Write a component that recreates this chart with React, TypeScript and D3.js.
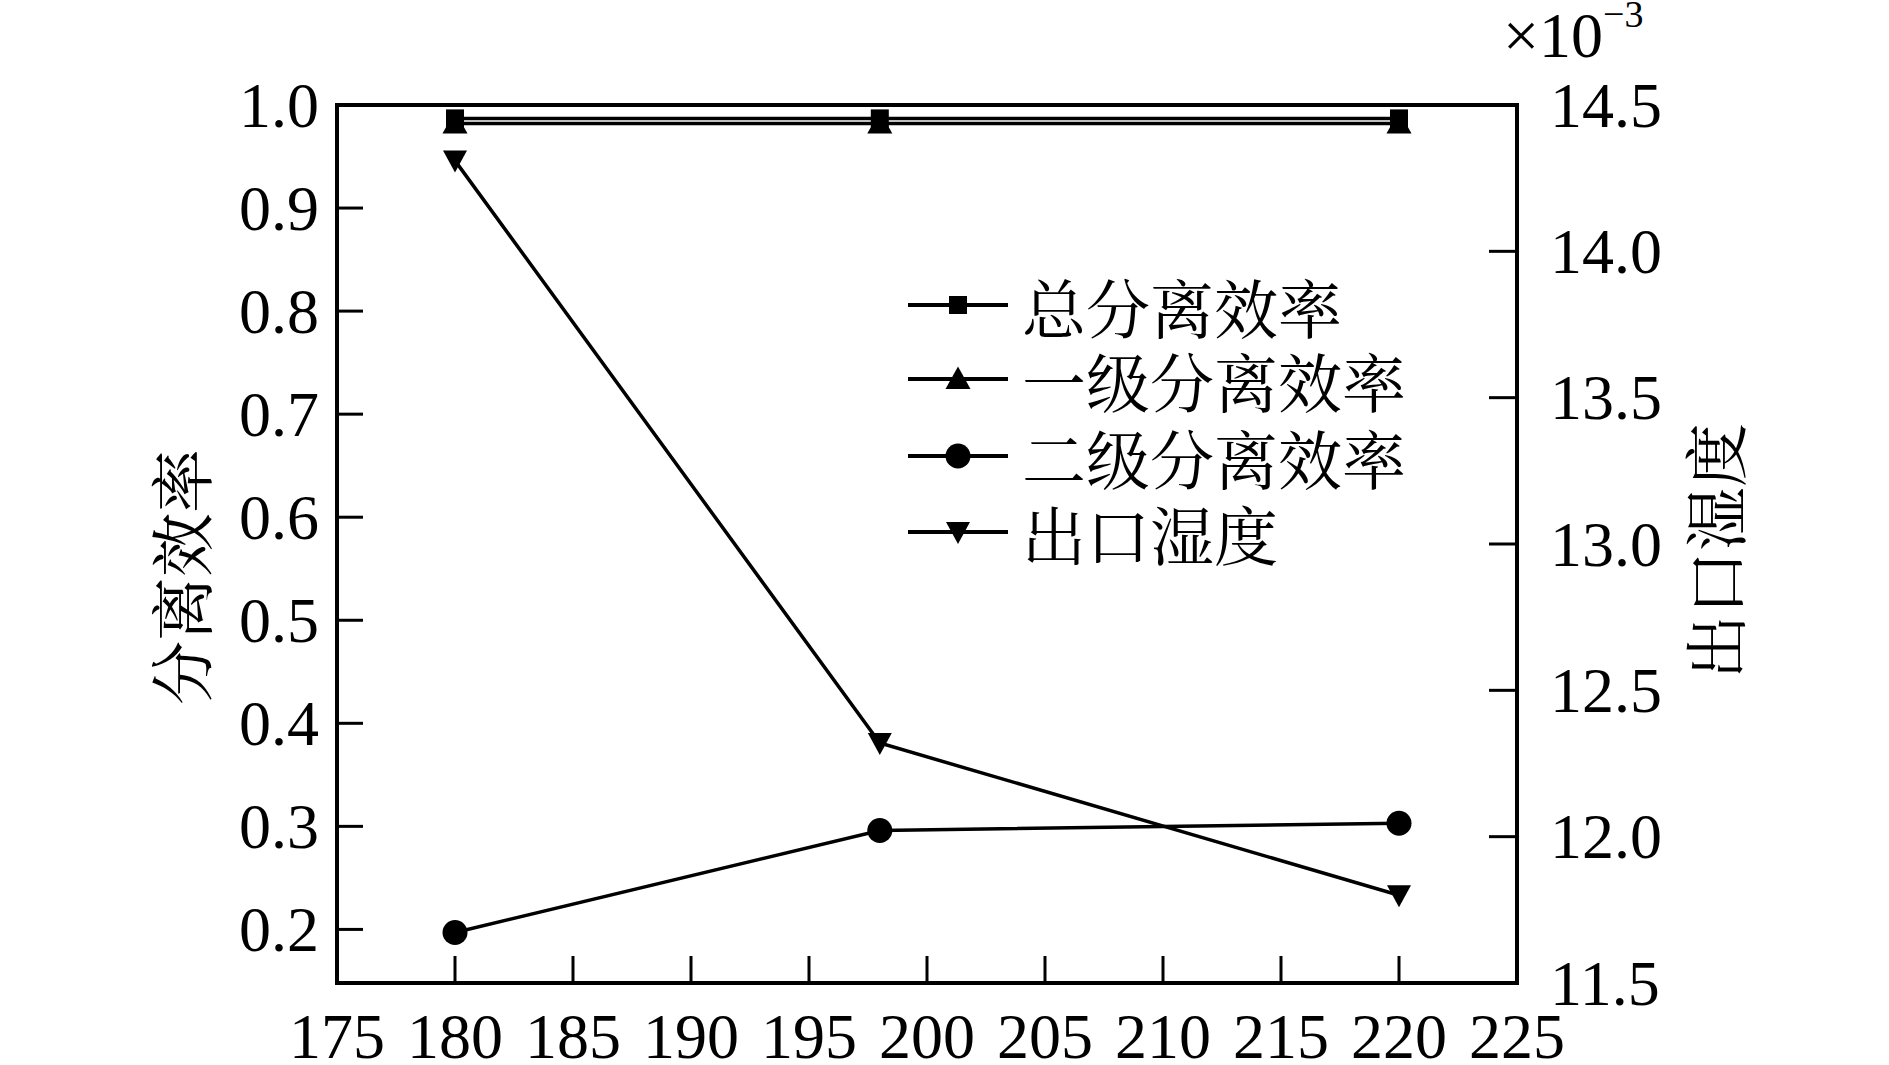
import React from "react";
import * as d3 from "d3";

// temperature (x) and the four series
const temps = [180, 198, 220];
const totalEff = [0.987, 0.987, 0.987];
const stage1Eff = [0.982, 0.982, 0.982];
const stage2Eff = [0.197, 0.296, 0.303];
const outletHumidity = [14.31, 12.32, 11.8]; // x10^-3

const xTicks = [175, 180, 185, 190, 195, 200, 205, 210, 215, 220, 225];
const yLeftTicks = [0.2, 0.3, 0.4, 0.5, 0.6, 0.7, 0.8, 0.9, 1.0];
const yRightTicks = [11.5, 12.0, 12.5, 13.0, 13.5, 14.0, 14.5];

const legendLabels = ["总分离效率", "一级分离效率", "二级分离效率", "出口湿度"];

const W = 1889;
const H = 1065;
const serif = "'Liberation Serif', 'Times New Roman', serif";
const cjk = "'Noto Serif CJK SC', 'Noto Sans CJK SC', sans-serif";

function Marker({ kind, x, y }: { kind: string; x: number; y: number }) {
  if (kind === "square") {
    return <rect x={x - 9} y={y - 9} width={18} height={18} fill="#000" />;
  }
  if (kind === "circle") {
    return <circle cx={x} cy={y} r={12.5} fill="#000" />;
  }
  if (kind === "up") {
    return <path d={`M${x},${y - 12.5}L${x + 12.5},${y + 10}L${x - 12.5},${y + 10}Z`} fill="#000" />;
  }
  return <path d={`M${x - 12},${y - 10}L${x + 12},${y - 10}L${x},${y + 12}Z`} fill="#000" />;
}

export default function App() {
  const left = 337, right = 1517, top = 105, bottom = 983;

  const x = d3.scaleLinear().domain([175, 225]).range([left, right]);
  const yL = d3.scaleLinear().domain([0.148, 1.0]).range([bottom, top]);
  const yR = d3.scaleLinear().domain([11.5, 14.5]).range([bottom, top]);

  const line = d3.line<[number, number]>().x((d) => d[0]).y((d) => d[1]);

  const series = [
    { kind: "square", pts: temps.map((t, i) => [x(t), yL(totalEff[i])] as [number, number]) },
    { kind: "up", pts: temps.map((t, i) => [x(t), yL(stage1Eff[i])] as [number, number]) },
    { kind: "circle", pts: temps.map((t, i) => [x(t), yL(stage2Eff[i])] as [number, number]) },
    { kind: "down", pts: temps.map((t, i) => [x(t), yR(outletHumidity[i])] as [number, number]) },
  ];

  const legendY = [305, 379, 456, 532];

  return (
    <svg
      width={W}
      height={H}
      viewBox={`0 0 ${W} ${H}`}
      style={{ position: "absolute", left: 0, top: 0, background: "#fff" }}
    >
      <rect x={0} y={0} width={W} height={H} fill="#fff" />

      {/* ticks, inward */}
      {xTicks.filter((t) => t !== 175 && t !== 225).map((t) => (
        <line key={`xt${t}`} x1={x(t)} x2={x(t)} y1={bottom} y2={bottom - 27} stroke="#000" strokeWidth={3} />
      ))}
      {yLeftTicks.map((t) => (
        <line key={`yl${t}`} x1={left} x2={left + 26} y1={yL(t)} y2={yL(t)} stroke="#000" strokeWidth={3} />
      ))}
      {yRightTicks.map((t) => (
        <line key={`yr${t}`} x1={right} x2={right - 28} y1={yR(t)} y2={yR(t)} stroke="#000" strokeWidth={3} />
      ))}

      {/* frame */}
      <rect x={left} y={top} width={right - left} height={bottom - top} fill="none" stroke="#000" strokeWidth={4} />

      {/* tick labels */}
      {xTicks.map((t) => (
        <text key={`xl${t}`} x={x(t)} y={1058} textAnchor="middle" fontFamily={serif} fontSize={64}>
          {t}
        </text>
      ))}
      {yLeftTicks.map((t) => (
        <text key={`yll${t}`} x={319} y={yL(t)} dy="0.34em" textAnchor="end" fontFamily={serif} fontSize={64}>
          {d3.format(".1f")(t)}
        </text>
      ))}
      {yRightTicks.map((t) => (
        <text key={`yrl${t}`} x={1550} y={yR(t)} dy="0.34em" textAnchor="start" fontFamily={serif} fontSize={64}>
          {d3.format(".1f")(t)}
        </text>
      ))}

      {/* exponent */}
      <text x={1503} y={57} fontFamily={serif} fontSize={64}>
        ×10
        <tspan fontSize={38} dy={-30}>−3</tspan>
      </text>

      {/* axis titles */}
      <text
        transform={`translate(178,577) rotate(-90)`}
        textAnchor="middle"
        dominantBaseline="central"
        fontFamily={cjk}
        fontSize={64}
      >
        分离效率
      </text>
      <text
        transform={`translate(1712,551) rotate(-90)`}
        textAnchor="middle"
        dominantBaseline="central"
        fontFamily={cjk}
        fontSize={64}
      >
        出口湿度
      </text>

      {/* data */}
      {series.map((s, i) => (
        <g key={`s${i}`}>
          <path d={line(s.pts) || ""} fill="none" stroke="#000" strokeWidth={3.5} />
          {s.pts.map((p, j) => (
            <Marker key={j} kind={s.kind} x={p[0]} y={p[1]} />
          ))}
        </g>
      ))}

      {/* legend */}
      {series.map((s, i) => (
        <g key={`lg${i}`}>
          <line x1={908} x2={1008} y1={legendY[i]} y2={legendY[i]} stroke="#000" strokeWidth={4} />
          <Marker kind={s.kind} x={958} y={legendY[i]} />
          <text x={1022} y={legendY[i]} dominantBaseline="central" fontFamily={cjk} fontSize={64}>
            {legendLabels[i]}
          </text>
        </g>
      ))}
    </svg>
  );
}
